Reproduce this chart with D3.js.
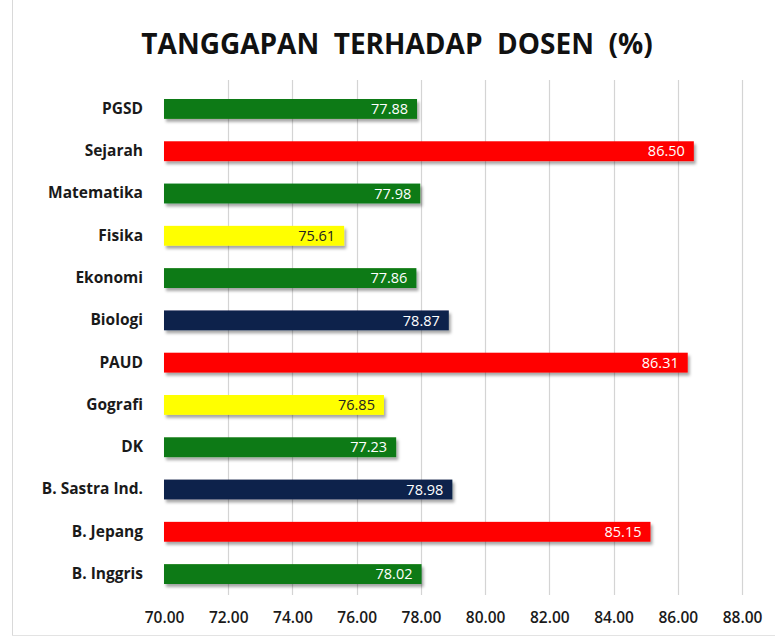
<!DOCTYPE html>
<html>
<head>
<meta charset="utf-8">
<script src="https://cdn.jsdelivr.net/npm/d3@7/dist/d3.min.js"></script>
<style>
  body { margin: 0; background: #fff; }
  svg { display: block; font-family: "Open Sans", "DejaVu Sans", sans-serif; }
</style>
</head>
<body>
<div class="chart"></div>
<script>
'use strict';

var categories = ['PGSD', 'Sejarah', 'Matematika', 'Fisika', 'Ekonomi', 'Biologi',
    'PAUD', 'Gografi', 'DK', 'B. Sastra Ind.', 'B. Jepang', 'B. Inggris'];
var values = [77.88, 86.50, 77.98, 75.61, 77.86, 78.87, 86.31, 76.85, 77.23, 78.98, 85.15, 78.02];
var barColors = ['#0a7a12', '#ff0000', '#0a7a12', '#ffff00', '#0a7a12', '#10244c',
    '#ff0000', '#ffff00', '#0a7a12', '#10244c', '#ff0000', '#0a7a12'];
var tickValues = [70, 72, 74, 76, 78, 80, 82, 84, 86, 88];
var title = 'TANGGAPAN  TERHADAP  DOSEN  (%)';

var width = 775, height = 639;
var margins = { top: 88, bottom: 44, left: 164, right: 33 };
var plotW = width - margins.left - margins.right;
var plotH = height - margins.top - margins.bottom;

var svg = d3.select('div.chart').append('svg')
    .attr('width', width)
    .attr('height', height);

var defs = svg.append('defs');
var shadow = defs.append('filter').attr('id', 'shadow')
    .attr('x', '-5%').attr('y', '-30%').attr('width', '110%').attr('height', '180%');
shadow.append('feDropShadow')
    .attr('dx', 2).attr('dy', 3).attr('stdDeviation', 1.5)
    .attr('flood-color', '#000').attr('flood-opacity', 0.35);

// frame
svg.append('line').attr('x1', 12.5).attr('x2', 12.5).attr('y1', 0).attr('y2', 635)
    .attr('stroke', '#d9d9d9');
svg.append('line').attr('x1', 12).attr('x2', width).attr('y1', 635.5).attr('y2', 635.5)
    .attr('stroke', '#e3e3e3');

svg.append('text')
    .attr('x', 397).attr('y', 54)
    .attr('text-anchor', 'middle')
    .attr('font-size', 28)
    .attr('font-weight', 700)
    .attr('fill', '#111')
    .style('white-space', 'pre')
    .text(title);

var x = d3.scaleLinear().domain([70, 88]).range([0, plotW]);
var y = d3.scaleBand().domain(categories).range([0, plotH]).paddingInner(0.53).paddingOuter(0.26);

var chart = svg.append('g')
    .attr('transform', 'translate(' + margins.left + ',' + margins.top + ')');

// gridlines
chart.append('g').selectAll('line')
    .data(tickValues.slice(1))
    .enter().append('line')
    .attr('x1', function (d) { return Math.round(x(d)) + 0.5; })
    .attr('x2', function (d) { return Math.round(x(d)) + 0.5; })
    .attr('y1', -8).attr('y2', plotH)
    .attr('stroke', '#d4d4d4').attr('stroke-width', 1.2);

chart.selectAll('rect.bar')
    .data(values)
    .enter().append('rect')
    .attr('class', 'bar')
    .attr('x', 0)
    .attr('y', function (d, i) { return y(categories[i]); })
    .attr('width', function (d) { return x(d) - x(70); })
    .attr('height', y.bandwidth())
    .attr('fill', function (d, i) { return barColors[i]; })
    .attr('filter', 'url(#shadow)');

chart.selectAll('text.val')
    .data(values)
    .enter().append('text')
    .attr('class', 'val')
    .attr('x', function (d) { return x(d) - 9; })
    .attr('y', function (d, i) { return y(categories[i]) + y.bandwidth() / 2; })
    .attr('dy', '0.36em')
    .attr('text-anchor', 'end')
    .attr('font-size', 14.5)
    .attr('fill', function (d, i) { return barColors[i] === '#ffff00' ? '#222' : '#fff'; })
    .text(function (d) { return d3.format('.2f')(d); });

var yAxis = d3.axisLeft(y).tickSize(0).tickPadding(21);
var yAx = chart.append('g').call(yAxis);
yAx.select('.domain').remove();
yAx.selectAll('text')
    .attr('font-size', 15.5)
    .attr('font-weight', 700)
    .attr('fill', '#1a1a1a')
    .attr('font-family', '"Open Sans", sans-serif');

var xAxis = d3.axisBottom(x).tickValues(tickValues).tickSize(0).tickPadding(17)
    .tickFormat(d3.format('.2f'));
var xAx = chart.append('g')
    .attr('transform', 'translate(0,' + plotH + ')')
    .call(xAxis);
xAx.select('.domain').remove();
xAx.selectAll('text')
    .attr('font-size', 15.5)
    .attr('font-weight', 600)
    .attr('fill', '#1a1a1a')
    .attr('font-family', '"Open Sans", sans-serif');
</script>
</body>
</html>
